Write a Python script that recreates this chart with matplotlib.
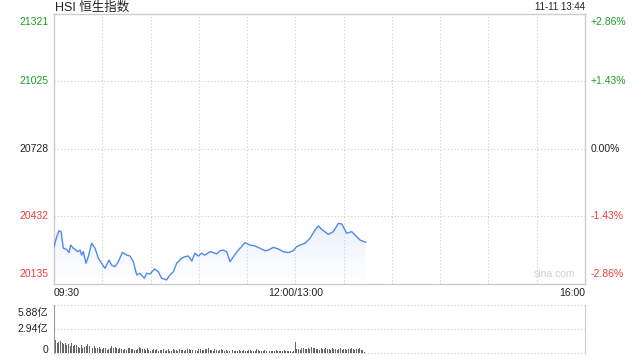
import matplotlib
matplotlib.use("Agg")
import matplotlib.pyplot as plt
import numpy as np
from matplotlib.patches import PathPatch

FONT = ['Liberation Sans', 'Noto Sans CJK SC', 'DejaVu Sans']
plt.rcParams['font.family'] = FONT

# 昨收 / 坐标轴范围
prev_close = 20728
y_ticks = [21321, 21025, 20728, 20432, 20135]
pct_labels = ["+2.86%", "+1.43%", "0.00%", "-1.43%", "-2.86%"]
x_tick_pos = [0, 150, 330]
x_tick_labels = ["09:30", "12:00/13:00", "16:00"]

# 分时数据 (交易分钟, 指数)
minutes = [0, 1.7, 3.1, 4.4, 5.8, 7.9, 9.3, 10.4, 12.0, 13.7, 14.7, 16.2, 17.2,
           18.2, 19.9, 21.3, 23.4, 25.5, 27.6, 29.6, 31.7, 34.2, 35.8, 37.9,
           40.0, 42.5, 45.2, 47.2, 49.3, 51.4, 53.4, 56.1, 57.6, 59.7, 62.4,
           64.8, 66.9, 70.0, 72.1, 74.2, 76.2, 79.3, 81.4, 83.5, 85.6, 87.6,
           89.7, 91.8, 93.8, 97.0, 99.0, 101.1, 103.2, 105.2, 107.3, 109.4,
           111.5, 114.6, 118.7, 121.8, 124.9, 128.0, 131.1, 133.2, 136.3,
           139.4, 142.5, 145.6, 148.7, 150.8, 152.9, 156.0, 159.1, 162.2,
           164.3, 166.4, 170.5, 173.6, 176.7, 178.8, 181.9, 185.0, 187.1,
           190.2, 193.7]
prices = [20299, 20343, 20369, 20365, 20292, 20287, 20273, 20306, 20292, 20284,
          20277, 20284, 20262, 20277, 20226, 20255, 20314, 20292, 20248, 20226,
          20204, 20240, 20218, 20211, 20233, 20274, 20262, 20258, 20233, 20175,
          20182, 20160, 20182, 20179, 20201, 20189, 20160, 20153, 20175, 20189,
          20226, 20248, 20255, 20258, 20236, 20270, 20258, 20270, 20262, 20277,
          20273, 20267, 20281, 20284, 20277, 20233, 20255, 20284, 20317, 20306,
          20302, 20292, 20281, 20284, 20296, 20289, 20277, 20273, 20281, 20299,
          20306, 20314, 20336, 20372, 20390, 20375, 20353, 20365, 20401, 20399,
          20358, 20365, 20350, 20328, 20318]

# 成交额 (亿), 每分钟
volume = [2.10, 1.55, 1.25, 1.35, 1.40, 1.20, 1.10, 1.25, 0.95, 1.05,
          0.90, 1.20, 0.85, 0.95, 1.00, 0.70, 0.60, 0.95, 0.65, 0.75,
          0.80, 1.15, 0.90, 0.70, 0.65, 0.80, 0.55, 0.60, 0.75, 0.50,
          0.45, 0.60, 0.55, 0.40, 0.50, 0.65, 0.80, 0.55, 0.70, 0.60,
          0.50, 0.55, 0.45, 0.40, 0.50, 0.35, 0.60, 0.55, 0.45, 0.50,
          0.40, 0.35, 0.45, 0.70, 0.55, 0.50, 0.45, 0.40, 0.55, 0.35,
          0.30, 0.40, 0.45, 0.35, 0.50, 0.30, 0.35, 0.40, 0.45, 0.30,
          0.35, 0.45, 0.30, 0.25, 0.50, 0.40, 0.35, 0.30, 0.45, 0.35,
          0.40, 0.30, 0.35, 0.45, 0.50, 0.40, 0.35, 0.55, 0.40, 0.30,
          0.45, 0.50, 0.40, 0.35, 0.50, 0.45, 0.55, 0.40, 0.35, 0.30,
          0.45, 0.40, 0.30, 0.35, 0.50, 0.40, 0.30, 0.35, 0.30, 0.25,
          0.35, 0.40, 0.30, 0.25, 0.30, 0.35, 0.30, 0.25, 0.35, 0.30,
          0.25, 0.35, 0.40, 0.30, 0.25, 0.30, 0.45, 0.35, 0.30, 0.25,
          0.30, 0.35, 0.25, 0.30, 0.20, 0.25, 0.30, 0.25, 0.35, 0.30,
          0.25, 0.20, 0.30, 0.35, 0.25, 0.20, 0.30, 0.25, 0.15, 0.30,
          1.35, 0.50, 0.45, 0.40, 0.55, 0.60, 0.45, 0.50, 0.65, 0.45,
          0.70, 0.55, 0.60, 0.50, 0.45, 0.40, 0.55, 0.45, 0.50, 0.65,
          0.45, 0.50, 0.40, 0.55, 0.45, 0.50, 0.40, 0.45, 0.55, 0.40,
          0.45, 0.50, 0.40, 0.45, 0.50, 0.55, 0.45, 0.40, 0.50, 0.45,
          0.55, 0.40, 0.35, 0.10]
vol_ticks = [5.88, 2.94, 0]
vol_labels = ["5.88亿", "2.94亿", "0"]

GREEN = '#1f9f1f'
RED = '#f23a3a'
GRID = '#cccccc'
TXT = '#222222'

fig = plt.figure(figsize=(6.4, 3.6), dpi=100)
ax = fig.add_axes([54/640, 1-284/360, 531/640, 270/360])
axv = fig.add_axes([54/640, 1-353/360, 531/640, 48.5/360])

# ---- 分时主图 ----
for t in range(30, 330, 30):
    ax.axvline(t, color=GRID, lw=0.8, ls=(0, (1, 2)), zorder=0)
for v in y_ticks[1:-1]:
    ax.axhline(v, color=GRID, lw=0.8, ls=(0, (1, 2)), zorder=0)

ax.plot(minutes, prices, color='#4f8ae8', lw=1.0, zorder=3)

# 渐变填充
poly = ax.fill_between(minutes, prices, y_ticks[-1], color='none', lw=0)
clip = PathPatch(poly.get_paths()[0], transform=ax.transData, fc='none', ec='none')
ax.add_patch(clip)
img = np.zeros((100, 1, 4))
img[..., 0] = 0.85
img[..., 1] = 0.90
img[..., 2] = 0.99
img[..., 3] = np.linspace(0.55, 0, 100).reshape(-1, 1)
ax.imshow(img, extent=[0, max(minutes), y_ticks[-1], max(prices)], aspect='auto',
          origin='upper', clip_path=clip, zorder=1)
ax.set_ylim(y_ticks[-1], y_ticks[0])
ax.set_xlim(0, 330)

ax.set_xticks([])
ax.set_yticks([])
for s in ax.spines.values():
    s.set_color(GRID)
    s.set_linewidth(1.0)

colors = [GREEN, GREEN, TXT, RED, RED]
offsets = [-6, 0, 0, 0, 7]
for v, pc, c, off in zip(y_ticks, pct_labels, colors, offsets):
    ax.annotate(str(v), xy=(0, v), xycoords=('axes fraction', 'data'),
                xytext=(-4, off), textcoords='offset points', ha='right',
                va='center', fontsize=7.5, color=c)
    ax.annotate(pc, xy=(1, v), xycoords=('axes fraction', 'data'),
                xytext=(4, off), textcoords='offset points', ha='left',
                va='center', fontsize=7.5, color=c)

aligns = ['left', 'center', 'right']
for p, lab, ha in zip(x_tick_pos, x_tick_labels, aligns):
    ax.annotate(lab, xy=(p, 0), xycoords=('data', 'axes fraction'),
                xytext=(0, -3), textcoords='offset points', ha=ha, va='top',
                fontsize=7.5, color=TXT)

ax.annotate("HSI 恒生指数", xy=(0, 1), xycoords='axes fraction',
            xytext=(1, 2), textcoords='offset points', ha='left', va='baseline',
            fontsize=9, color=TXT, family=FONT)
ax.annotate("11-11 13:44", xy=(1, 1), xycoords='axes fraction',
            xytext=(0, 3), textcoords='offset points', ha='right', va='baseline',
            fontsize=7, color=TXT)
ax.text(0.982, 0.02, "sina.com", transform=ax.transAxes, ha='right', va='bottom',
        fontsize=7.5, color='#d0d0d0')

# ---- 成交额 ----
axv.bar(np.arange(len(volume)), volume, width=0.6, color='#666666', zorder=2)
axv.set_xlim(0, 330)
axv.set_ylim(0, 5.88)
for v in vol_ticks:
    axv.axhline(v, color=GRID, lw=0.8, ls=(0, (1, 2)), zorder=0, clip_on=False)
axv.set_xticks([])
axv.set_yticks([])
for k in ['top', 'bottom']:
    axv.spines[k].set_visible(False)
axv.spines['right'].set_color(GRID)
axv.spines['left'].set_color('#999999')
vol_off = [-6, 0, 2]
for v, lab, off in zip(vol_ticks, vol_labels, vol_off):
    axv.annotate(lab, xy=(0, v), xycoords=('axes fraction', 'data'),
                 xytext=(-4, off), textcoords='offset points', ha='right',
                 va='center', fontsize=7.5, color=TXT, family=FONT)

fig.savefig("out.png", dpi=100)
